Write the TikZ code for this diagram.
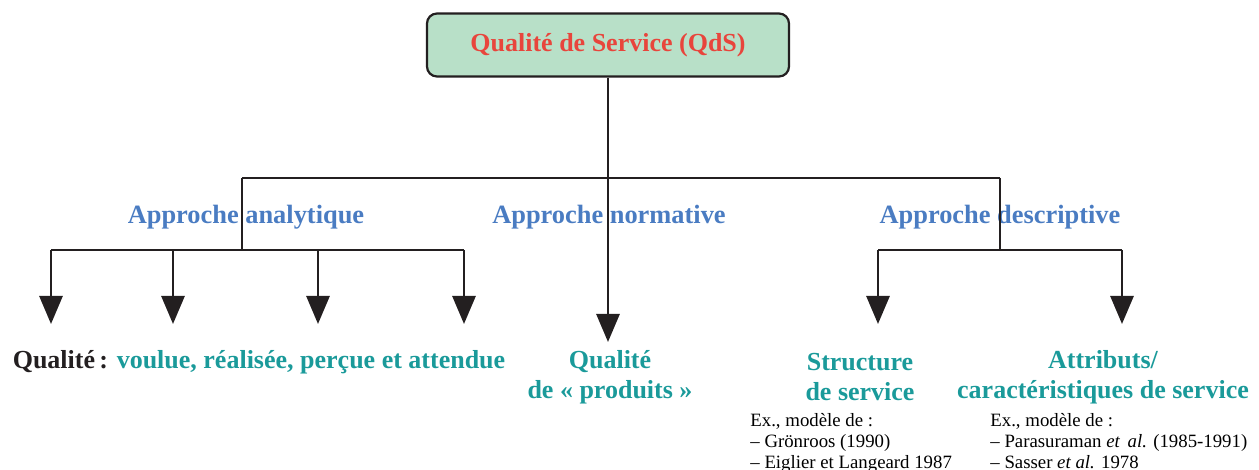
\documentclass[tikz,border=0pt]{standalone}
\usepackage{fontspec}
\setmainfont{Liberation Serif}
\usetikzlibrary{arrows.meta}
\usetikzlibrary{calc,positioning}
\definecolor{qdsvert}{HTML}{B8E0C8}
\definecolor{qdsrouge}{HTML}{E8453C}
\definecolor{qdsbleu}{HTML}{4A7CC2}
\definecolor{qdsturq}{HTML}{1A9A9A}
\definecolor{qdstrait}{HTML}{231F20}

\begin{document}
\begin{tikzpicture}[x=0.5pt,y=-0.5pt,
  racine/.style={draw=qdstrait,line width=1.1pt,fill=qdsvert,rounded corners=5pt,
    minimum width=181pt,minimum height=31.5pt,text=qdsrouge,
    font=\bfseries\fontsize{13}{15}\selectfont},
  approche/.style={text=qdsbleu,font=\bfseries\fontsize{13.2}{15}\selectfont},
  qualite/.style={text=qdsturq,align=center,font=\bfseries\fontsize{13}{15}\selectfont},
  exemple/.style={align=left,anchor=north west,inner sep=0pt,
    font=\fontsize{9.4}{10.5}\selectfont},
  trait/.style={draw=qdstrait,line width=1.4pt},
  fleche/.style={trait,-{Triangle[width=11.5pt,length=14pt]}}]
\useasboundingbox (0,0) rectangle (1259,470);
% racine
\node[racine] (qds) at (608,45) {Qualité de Service (QdS)};
% approches
\node[approche] (analytique) at (246,217) {Approche analytique};
\node[approche] (normative) at (609,217) {Approche normative};
\node[approche] (descriptive) at (1000,217) {Approche descriptive};
% resultats
\node[qualite] (voulue) at (259,362) {\textcolor{qdstrait}{Qualité\,:} voulue, réalisée, perçue et attendue};
\node[qualite] (produits) at (610,377) {Qualité\\de « produits »};
\node[qualite] (structure) at (860,377) {Structure\\de service};
\node[qualite] (attributs) at (1103,377) {Attributs/\\caractéristiques de service};
\node[exemple] (exstructure) at (750,413) {Ex., modèle de :\\– Grönroos (1990)\\– Eiglier et Langeard 1987};
\node[exemple] (exattributs) at (990,413) {Ex., modèle de :\\– Parasuraman \textit{et\,\ al.} (1985-1991)\\– Sasser \textit{et al.} 1978};
% points de branchement
\coordinate (bus) at (608,178);
\coordinate (busG) at (242,178);
\coordinate (busD) at (1000,178);
\coordinate (brG) at (242,250);
\coordinate (brD) at (1000,250);
\coordinate (tN) at (608,342);
\foreach \x [count=\i] in {51,173,318,464} {
  \coordinate (hG\i) at (\x,250);
  \coordinate (tG\i) at (\x,324);
}
\coordinate (hD1) at (878,250);
\coordinate (tD1) at (878,324);
\coordinate (hD2) at (1122,250);
\coordinate (tD2) at (1122,324);
% traits
\draw[trait] (busG) -- (busD);
\draw[fleche] (qds.south) -- (tN);
\draw[trait] (busG) -- (brG);
\draw[trait] (busD) -- (brD);
\draw[trait] (hG1) -- (hG4);
\draw[trait] (hD1) -- (hD2);
\foreach \i in {1,...,4}
  \draw[fleche] (hG\i) -- (tG\i);
\draw[fleche] (hD1) -- (tD1);
\draw[fleche] (hD2) -- (tD2);
\end{tikzpicture}
\end{document}
